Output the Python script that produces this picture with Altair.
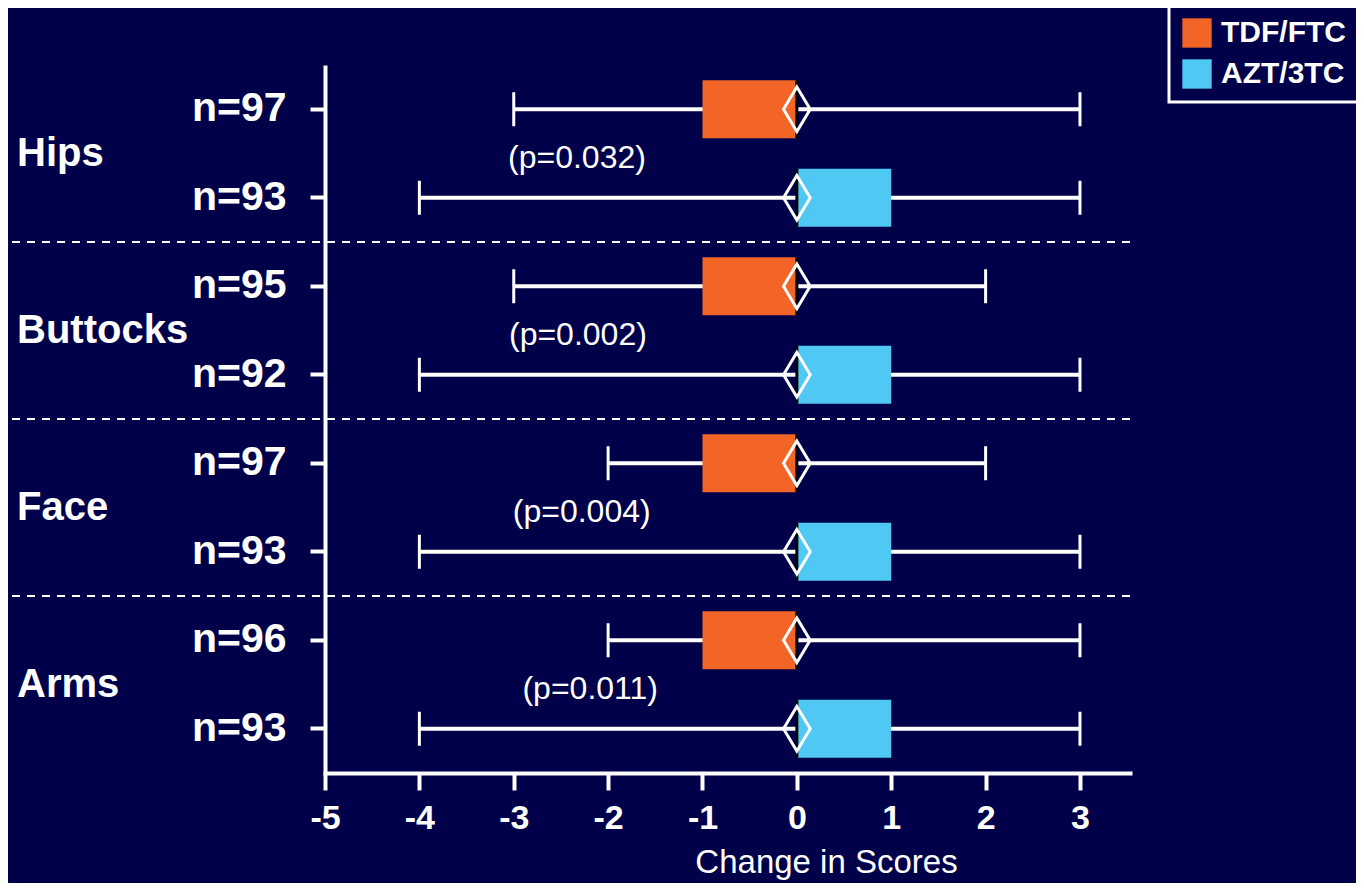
import altair as alt
import pandas as pd

# ---- data ----
groups = ["Hips", "Hips", "Buttocks", "Buttocks", "Face", "Face", "Arms", "Arms"]
arms = ["TDF/FTC", "AZT/3TC", "TDF/FTC", "AZT/3TC", "TDF/FTC", "AZT/3TC", "TDF/FTC", "AZT/3TC"]
n_values = [97, 93, 95, 92, 97, 93, 96, 93]
whisker_lo = [-3, -4, -3, -4, -2, -4, -2, -4]
whisker_hi = [3, 3, 2, 3, 2, 3, 3, 3]
box_lo = [-1, 0, -1, 0, -1, 0, -1, 0]
box_hi = [0, 1, 0, 1, 0, 1, 0, 1]
median = [0, 0, 0, 0, 0, 0, 0, 0]

group_names = ["Hips", "Buttocks", "Face", "Arms"]
p_labels = ["(p=0.032)", "(p=0.002)", "(p=0.004)", "(p=0.011)"]
p_x = [-2.33, -2.32, -2.28, -2.19]

x_ticks = [-5, -4, -3, -2, -1, 0, 1, 2, 3]
arm_names = ["TDF/FTC", "AZT/3TC"]
arm_colors = ["#F26527", "#4FC9F3"]

BG = "#00004A"
FONT = "Liberation Sans"

rows = [f"{g}|{a}|n={n}" for g, a, n in zip(groups, arms, n_values)]
df = pd.DataFrame({
    "row": rows, "group": groups, "arm": arms,
    "lo": whisker_lo, "hi": whisker_hi,
    "blo": box_lo, "bhi": box_hi, "med": median,
})
first_rows = [rows[i] for i in range(0, 8, 2)]
grp_df = pd.DataFrame({"row": first_rows, "group": group_names, "p": p_labels, "px": p_x})
sep_df = pd.DataFrame({"row": first_rows[1:]})

xscale = alt.Scale(domain=[-5, 3.53], nice=False, zero=False)
yscale = alt.Scale(domain=rows, paddingInner=0, paddingOuter=0)

x_axis = alt.Axis(
    values=x_ticks, labelExpr="datum.value + ''", title="Change in Scores",
    domainColor="white", domainWidth=4, tickColor="white", tickWidth=4, tickSize=17,
    labelColor="white", labelFont=FONT, labelFontSize=34, labelFontWeight="bold",
    labelPadding=11, titleColor="white", titleFont=FONT, titleFontSize=33,
    titleFontWeight="normal", titleX=501, titleY=99, titleAnchor="middle",
    titleBaseline="alphabetic", grid=False, labelFlush=False, domainCap="square",
)
y_axis = alt.Axis(
    labelExpr="split(datum.value, '|')[2]", title=None,
    domainColor="white", domainWidth=4, tickColor="white", tickWidth=4, tickSize=15,
    labelColor="white", labelFont=FONT, labelFontSize=41, labelFontWeight="bold",
    labelPadding=24, grid=False,
)


def X(field):
    return alt.X(field, scale=xscale, axis=x_axis, title="Change in Scores")


def Y(band=0.5):
    return alt.Y("row:N", scale=yscale, axis=y_axis, sort=rows, bandPosition=band, title=None)


base = alt.Chart(df)

whisk = base.mark_rule(color="white", strokeWidth=4).encode(
    x=X("lo:Q"), x2="hi:Q", y=Y()
)
cap_lo = base.mark_tick(color="white", thickness=3, size=34, orient="vertical", opacity=1).encode(
    x=X("lo:Q"), y=Y()
)
cap_hi = base.mark_tick(color="white", thickness=3, size=34, orient="vertical", opacity=1).encode(
    x=X("hi:Q"), y=Y()
)
boxes = base.mark_bar(height=58, opacity=1).encode(
    x=X("blo:Q"), x2="bhi:Q", y=Y(),
    color=alt.Color("arm:N", scale=alt.Scale(domain=arm_names, range=arm_colors),
                    legend=alt.Legend(title=None, orient="none", legendX=844, legendY=-60,
                                      direction="vertical")),
)
edge = base.mark_tick(color="black", thickness=3, size=58, orient="vertical", opacity=1).encode(
    x=X("med:Q"), y=Y()
)
diamond = base.mark_point(
    shape="M0,-1L0.6,0L0,1L-0.6,0Z", size=1980, filled=False, stroke="white",
    strokeWidth=3, opacity=1,
).encode(x=X("med:Q"), y=Y())

seps = alt.Chart(sep_df).mark_rule(color="white", strokeWidth=2, strokeDash=[8, 7]).encode(
    y=Y(0), x=alt.value(-313), x2=alt.value(805),
)
ptext = alt.Chart(grp_df).mark_text(
    color="white", font=FONT, fontSize=32, align="center", baseline="middle", dy=4
).encode(
    x=X("px:Q"), y=Y(1), text="p:N",
)
gtext = alt.Chart(grp_df).mark_text(
    color="white", font=FONT, fontSize=40, fontWeight="bold", align="left", baseline="middle"
).encode(
    x=alt.value(-308), y=Y(1), text="group:N",
)

chart = alt.layer(whisk, cap_lo, cap_hi, boxes, edge, diamond, seps, ptext, gtext).properties(
    width=805, height=708,
    autosize=alt.AutoSizeParams(type="none"),
    padding={"left": 317, "top": 57, "right": 226, "bottom": 110},
    background=BG,
).configure_view(stroke=None).configure_legend(
    labelColor="white", labelFont=FONT, labelFontSize=30, labelFontWeight="bold",
    symbolType="square", symbolSize=860, symbolStrokeWidth=0, symbolOpacity=1,
    strokeColor="white", strokeWidth=3, fillColor=BG, padding=13,
    rowPadding=11, labelOffset=9, labelLimit=300,
)

chart.save("out.html", embed_options={"renderer": "svg", "actions": False})
